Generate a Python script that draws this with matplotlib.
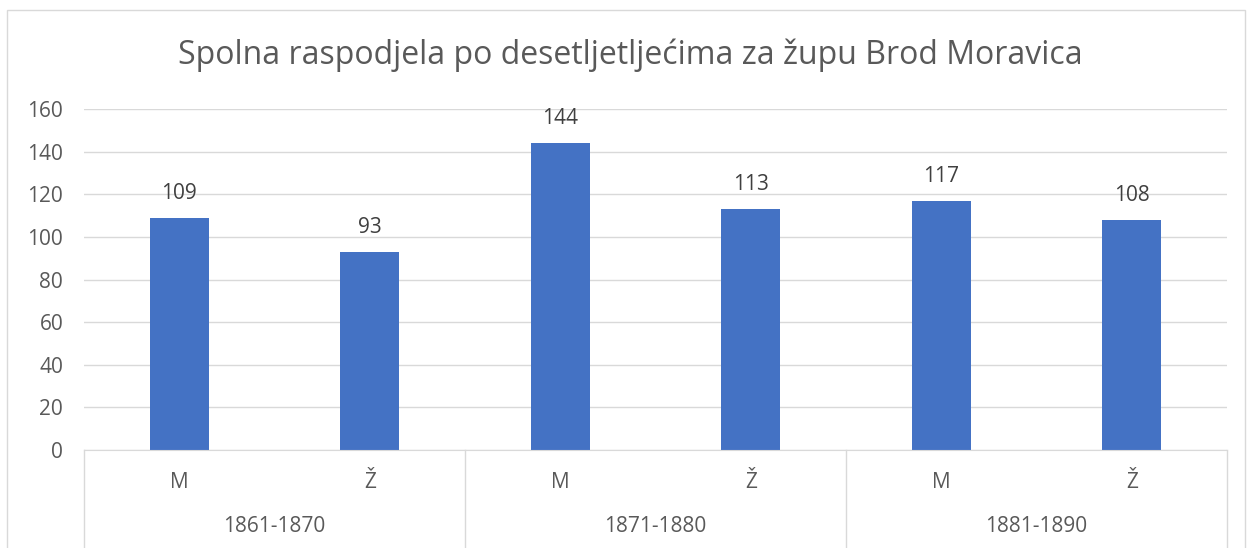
import matplotlib.pyplot as plt
from matplotlib.patches import Rectangle
import matplotlib.transforms as mtransforms

plt.rcParams['font.family'] = ['Open Sans', 'DejaVu Sans']

# podaci
decades = ['1861-1870', '1871-1880', '1881-1890']
sexes = ['M', 'Ž']
values = [109, 93, 144, 113, 117, 108]
yticks = [0, 20, 40, 60, 80, 100, 120, 140, 160]

W, H = 1256, 548
fig = plt.figure(figsize=(W / 100, H / 100), dpi=100)

# okvir grafikona
fig.patches.append(Rectangle((7 / W, -0.05), 1238 / W, 1 - 10 / H + 0.05,
                             transform=fig.transFigure, fill=False,
                             edgecolor='#d9d9d9', linewidth=1))

ax = fig.add_axes([84 / W, 1 - 450 / H, (1227 - 84) / W, (450 - 109) / H])
n = len(values)
xs = [i + 0.5 for i in range(n)]
bars = ax.bar(xs, values, width=0.31, color='#4472c4', zorder=3)
for x, v in zip(xs, values):
    ax.annotate(str(v), (x, v), xytext=(0, 10), textcoords='offset points',
                ha='center', va='bottom', fontsize=15, color='#404040')

ax.set_xlim(0, n)
ax.set_ylim(0, 160)
ax.set_yticks(yticks)
ax.set_xticks([])
ax.tick_params(axis='y', length=0, labelsize=15, labelcolor='#595959', pad=15)
ax.grid(axis='y', color='#d9d9d9', linewidth=1, zorder=0)
for s in ['top', 'right', 'left']:
    ax.spines[s].set_visible(False)
ax.spines['bottom'].set_color('#d9d9d9')
ax.spines['bottom'].set_zorder(4)

# kategorijska os u dvije razine
trans = mtransforms.blended_transform_factory(ax.transData, fig.transFigure)
y0 = 1 - 450 / H
for k in range(len(decades) + 1):
    ax.plot([2 * k, 2 * k], [y0, -0.02], transform=trans, color='#d9d9d9',
            linewidth=1, clip_on=False)
for i, x in enumerate(xs):
    ax.text(x, 1 - 482 / H, sexes[i % 2], transform=trans, ha='center',
            va='center', fontsize=15, color='#595959')
for k, d in enumerate(decades):
    ax.text(2 * k + 1, 1 - 527 / H, d, transform=trans, ha='center',
            va='center', fontsize=15, color='#595959')

fig.text(630 / W, 1 - 55 / H, 'Spolna raspodjela po desetljetljećima za župu Brod Moravica',
         ha='center', va='center', fontsize=23, color='#595959')

fig.savefig('out.png', dpi=100)
